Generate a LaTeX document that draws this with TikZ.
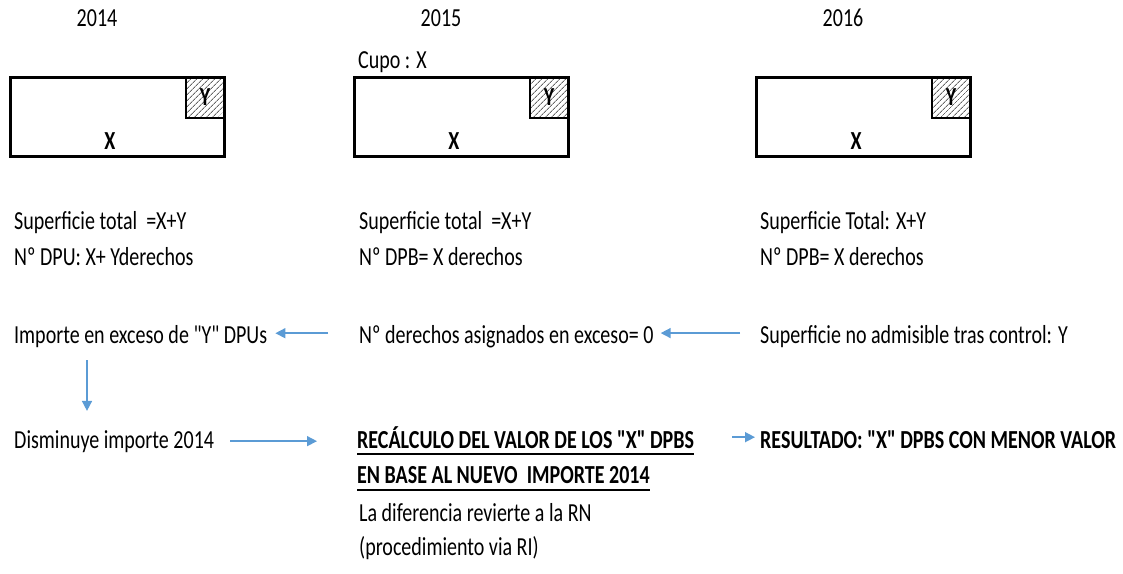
\documentclass[tikz,border=0pt]{standalone}
\usepackage{fontspec}
\setmainfont{Carlito}[FakeStretch=0.77,Ligatures=TeXOff]
\usepackage{tikz}
\usetikzlibrary{arrows.meta,patterns.meta}
\definecolor{azul}{HTML}{5B9BD5}

\begin{document}
\begin{tikzpicture}[x=1pt,y=-1pt,
	txt/.style={inner sep=0pt,anchor=base west,font=\fontsize{26}{30}\selectfont},
	bold/.style={txt,font=\fontsize{26}{30}\selectfont\bfseries},
	flecha/.style={draw=azul,line width=1.5pt,-{Triangle[length=10pt,width=10pt]}},
	marco/.style={draw=black,line width=3pt},
	raya/.style={draw=black,line width=1.5pt}]
	
	\useasboundingbox (0,0) rectangle (1123,573);
	
	% the three years
	\foreach \bx/\yr [count=\i] in {10/2014,354/2015,756/2016}{
		\node[txt,anchor=base] (yr\i) at (\bx+87,26) {\yr};
		\fill[pattern={Lines[angle=45,distance=4pt,line width=0.9pt]},pattern color=black!60] (\bx+176,77) rectangle (\bx+214,118);
		\draw[raya] (\bx+176,77) -- (\bx+176,118) -- (\bx+214,118);
		\draw[marco] (\bx,77) rectangle (\bx+214,156);
		\node[bold,anchor=base] (y\i) at (\bx+195,105) {Y};
		\node[bold,anchor=base] (x\i) at (\bx+100,149) {X};
	}
	\node[txt] (cupo) at (358,68) {Cupo : X};
	
	\node[txt] (sup1) at (14,229) {Superficie total~~=X+Y};
	\node[txt] (num1) at (14,265) {Nº DPU: X+ Yderechos};
	\node[txt] (sup2) at (359,229) {Superficie total~~=X+Y};
	\node[txt] (num2) at (359,265) {Nº DPB= X derechos};
	\node[txt] (sup3) at (760,229) {Superficie Total: X+Y};
	\node[txt] (num3) at (760,265) {Nº DPB= X derechos};
	
	\node[txt] (importe) at (14,343) {Importe en exceso de "Y" DPUs};
	\node[txt] (exceso) at (359,343) {Nº derechos asignados en exceso= 0};
	\node[txt] (control) at (760,343) {Superficie no admisible tras control: Y};
	
	\node[txt] (disminuye) at (14,448) {Disminuye importe 2014};
	\node[bold] (recalculo) at (357,448) {RECÁLCULO DEL VALOR DE LOS "X" DPBS};
	\node[bold] (base) at (357,483) {EN BASE AL NUEVO~~IMPORTE 2014};
	\node[txt] (diferencia) at (359,521) {La diferencia revierte a la RN};
	\node[txt] (proc) at (359,555) {(procedimiento via RI)};
	\node[bold] (resultado) at (760,448) {RESULTADO: "X" DPBS CON MENOR VALOR};
	
	\draw[raya] ([yshift=-6pt]recalculo.base west) -- ([yshift=-6pt]recalculo.base east);
	\draw[raya] ([yshift=-7pt]base.base west) -- ([yshift=-7pt]base.base east);
	
	% arrows
	\coordinate (dx) at (87,0);
	\draw[flecha,shorten <=31pt,shorten >=8pt] ([yshift=3pt]exceso.west) -- ([yshift=3pt]exceso.west -| importe.east);
	\draw[flecha,shorten <=20pt,shorten >=7pt] ([yshift=3pt]control.west) -- ([yshift=3pt]control.west -| exceso.east);
	\draw[flecha,shorten <=13pt,shorten >=19pt] (importe.south -| dx) -- (disminuye.north -| dx);
	\draw[flecha,shorten <=16pt,shorten >=40pt] (disminuye.east) -- (disminuye.east -| recalculo.west);
	\draw[flecha,shorten <=38pt,shorten >=5pt] (recalculo.east) -- (recalculo.east -| resultado.west);
	
\end{tikzpicture}
\end{document}
